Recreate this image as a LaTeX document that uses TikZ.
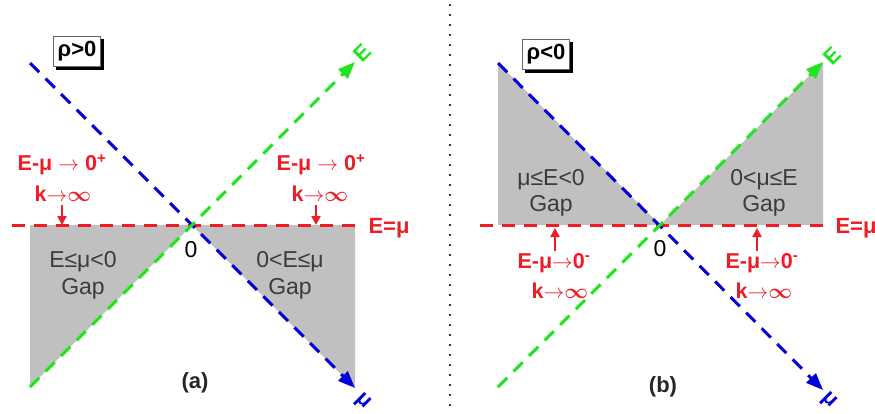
\documentclass[tikz,border=0pt]{standalone}
\usepackage{fontspec}
\setmainfont{Liberation Sans}
\usetikzlibrary{arrows.meta}
\definecolor{cred}{RGB}{238,28,36}
\definecolor{cgreen}{RGB}{30,230,30}
\definecolor{cblue}{RGB}{0,0,215}
\definecolor{cgray}{RGB}{192,192,192}
\definecolor{ctext}{RGB}{60,60,60}
\newcommand{\binf}{{\boldmath$\infty$}}
\begin{document}
\begin{tikzpicture}[x=1pt,y=-1pt,
  redlab/.style={text=cred,font=\fontsize{21.5}{23}\selectfont\bfseries,inner sep=0pt},
  gaplab/.style={text=ctext,font=\fontsize{23}{25}\selectfont,inner sep=0pt},
  zerolab/.style={text=black,font=\fontsize{23}{25}\selectfont,inner sep=0pt},
  panlab/.style={text=black!85,font=\fontsize{22}{24}\selectfont\bfseries,inner sep=0pt},
  axlab/.style={font=\fontsize{22}{24}\selectfont\bfseries,inner sep=0pt},
  axisline/.style={line width=3pt,dash pattern=on 13pt off 9pt},
  bigtip/.style={-{Triangle[length=17pt,width=13pt]}},
  smalltip/.style={-{Triangle[length=9pt,width=9pt]}},
  redarrow/.style={cred,line width=2.6pt,smalltip},
  rhobox/.style={draw=black!60,line width=0.8pt,fill=white,minimum width=47pt,minimum height=30pt,inner sep=1pt,font=\fontsize{22}{24}\selectfont\bfseries},
  shadowbox/.style={rhobox,draw=black,fill=black}
]
\useasboundingbox (0,0) rectangle (875,413);

% ---------- panel (a) ----------
\coordinate (Oa) at (192,225);
\coordinate (ra1) at (12,225);  \coordinate (ra2) at (358,225);
\coordinate (ba1) at (30,63);   \coordinate (ba2) at (355,388);
\coordinate (ga1) at (30,387);  \coordinate (ga2) at (355,62);
\coordinate (gla) at (30,225);  \coordinate (gra1) at (355,225); \coordinate (gra2) at (355,388);

\fill[cgray] (gla) -- (Oa) -- (ga1) -- cycle;
\fill[cgray] (Oa) -- (gra1) -- (gra2) -- cycle;

\draw[axisline,cred] (ra1) -- (ra2);
\draw[axisline,cblue,bigtip] (ba1) -- (ba2);
\draw[axisline,cgreen,bigtip] (ga1) -- (ga2);

\node[axlab,text=cred] (eqa) at (389,228) {E=μ};
\node[axlab,text=cgreen,rotate=45] (Ea) at (362,53) {E};
\node[axlab,text=cblue,rotate=-45] (mua) at (363,402) {μ};
\node[zerolab] (za) at (191,250) {0};

\node[shadowbox] (rhoash) at (80,54) {};
\node[rhobox] (rhoa) at (77,51) {ρ>0};

\node[redlab] (la1) at (62,165) {E-μ $\rightarrow$ 0\textsuperscript{+}};
\node[redlab] (la2) at (63,194) {k$\rightarrow$\binf};
\coordinate (la3) at (62,205); \coordinate (la4) at (62,225);
\draw[redarrow] (la3) -- (la4);

\node[redlab] (lb1) at (321,165) {E-μ $\rightarrow$ 0\textsuperscript{+}};
\node[redlab] (lb2) at (320,194) {k$\rightarrow$\binf};
\coordinate (lb3) at (316,205); \coordinate (lb4) at (316,225);
\draw[redarrow] (lb3) -- (lb4);

\node[gaplab] (ga) at (83,262) {E≤μ<0};
\node[gaplab] (gb) at (83,289) {Gap};
\node[gaplab] (gc) at (290,262) {0<E≤μ};
\node[gaplab] (gd) at (290,289) {Gap};

\node[panlab] (pa) at (195,383) {(a)};

% ---------- separator ----------
\coordinate (s1) at (450,4); \coordinate (s2) at (450,413);
\draw[line width=2pt,dash pattern=on 2pt off 8pt,black!80] (s1) -- (s2);

% ---------- panel (b) ----------
\coordinate (Ob) at (660,225);
\coordinate (rb1) at (480,225); \coordinate (rb2) at (828,225);
\coordinate (bb1) at (498,63);  \coordinate (bb2) at (823,390);
\coordinate (gb1) at (498,387); \coordinate (gb2) at (823,62);
\coordinate (glb) at (498,225); \coordinate (grb) at (823,225);

\fill[cgray] (bb1) -- (glb) -- (Ob) -- cycle;
\fill[cgray] (Ob) -- (grb) -- (gb2) -- cycle;

\draw[axisline,cred] (rb1) -- (rb2);
\draw[axisline,cblue,bigtip] (bb1) -- (bb2);
\draw[axisline,cgreen,bigtip] (gb1) -- (gb2);

\node[axlab,text=cred] (eqb) at (856,228) {E=μ};
\node[axlab,text=cgreen,rotate=45] (Eb) at (832,56) {E};
\node[axlab,text=cblue,rotate=-45] (mub) at (829,401) {μ};
\node[zerolab] (zb) at (660,249) {0};

\node[shadowbox] (rhobsh) at (549,57) {};
\node[rhobox] (rhob) at (546,54) {ρ<0};

\node[gaplab] (gbe) at (551,180) {μ≤E<0};
\node[gaplab] (gbf) at (551,206) {Gap};
\node[gaplab] (gbg) at (764,180) {0<μ≤E};
\node[gaplab] (gbh) at (764,206) {Gap};

\coordinate (lc3) at (555,251); \coordinate (lc4) at (555,228);
\draw[redarrow] (lc3) -- (lc4);
\node[redlab] (lc1) at (554,263) {E-μ$\rightarrow$0\textsuperscript{-}};
\node[redlab] (lc2) at (560,291) {k$\rightarrow$\binf};

\coordinate (ld3) at (757,251); \coordinate (ld4) at (757,228);
\draw[redarrow] (ld3) -- (ld4);
\node[redlab] (ld1) at (762,263) {E-μ$\rightarrow$0\textsuperscript{-}};
\node[redlab] (ld2) at (764,291) {k$\rightarrow$\binf};

\node[panlab] (pb) at (663,387) {(b)};
\end{tikzpicture}
\end{document}
